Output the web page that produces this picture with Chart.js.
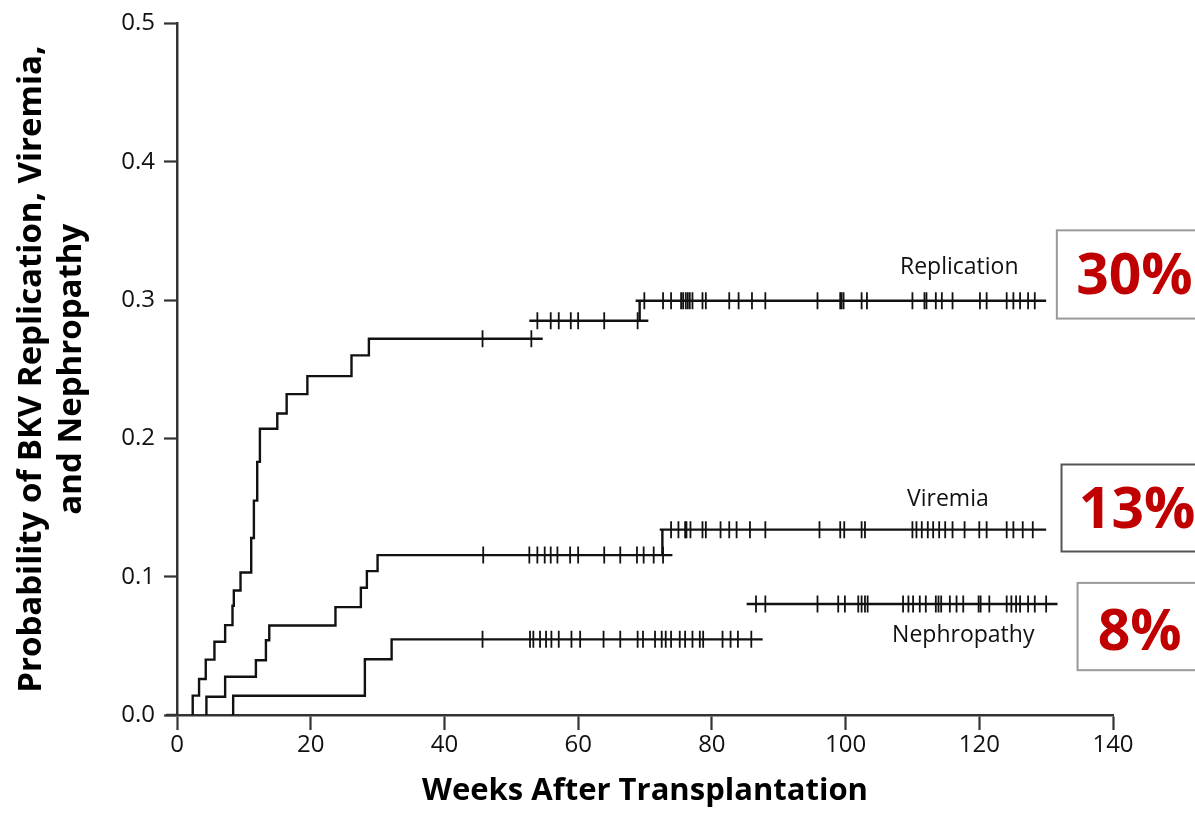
<!DOCTYPE html>
<html>
<head>
<meta charset="utf-8">
<script src="https://cdn.jsdelivr.net/npm/chart.js@4/dist/chart.umd.min.js"></script>
<style>
html,body{margin:0;padding:0;background:#fff;}
#wrap{width:1195px;height:813px;position:relative;}
</style>
</head>
<body>
<div id="wrap"><canvas id="c" width="1195" height="813"></canvas></div>
<script>
// ---------- data ----------
const xTickValues = [0, 20, 40, 60, 80, 100, 120, 140];
const yTickValues = [0.0, 0.1, 0.2, 0.3, 0.4, 0.5];

// Kaplan-Meier step curves; null separates the drawn pieces
const replicationWeeks = [2.35, 2.35, 3.3, 4.3, 5.6, 7.2, 8.3, 8.5, 9.5, 11.1, 11.5, 12.0, 12.4, 15.0, 16.4, 19.5, 26.1, 28.7, 54.7, null, 52.7, 70.5, null, 69.2, 69.2, null, 68.6, 130.0];
const replicationProbs = [0, 0.014, 0.026, 0.040, 0.053, 0.065, 0.079, 0.090, 0.103, 0.128, 0.155, 0.183, 0.207, 0.218, 0.232, 0.245, 0.260, 0.272, 0.272, null, 0.285, 0.285, null, 0.285, 0.2995, null, 0.2995, 0.2995];

const viremiaWeeks = [4.4, 4.4, 7.2, 11.8, 13.3, 13.8, 23.7, 27.5, 28.4, 30.0, 74.1, null, 72.6, 72.6, null, 72.2, 130.0];
const viremiaProbs = [0, 0.0132, 0.0276, 0.0396, 0.054, 0.0647, 0.078, 0.092, 0.104, 0.1156, 0.1156, null, 0.1156, 0.134, null, 0.134, 0.134];

const nephropathyWeeks = [8.4, 8.4, 28.1, 32.1, 87.6, null, 85.2, 131.7];
const nephropathyProbs = [0, 0.0139, 0.0403, 0.0547, 0.0547, null, 0.0803, 0.0803];

// censored observations (tick marks), grouped by plateau level
const replicationCensorLevels = [0.272, 0.285, 0.2995];
const replicationCensorWeeks = [
  [45.7, 53.0],
  [53.9, 55.9, 57.1, 58.9, 60.0, 63.9, 68.9],
  [69.9, 72.7, 73.9, 75.4, 75.7, 76.1, 76.4, 76.7, 77.1, 78.6, 79.1, 82.6, 84.0, 86.0, 88.0, 95.8, 99.2, 99.4, 99.7, 102.4, 103.2, 110.0, 111.8, 112.1, 113.5, 114.4, 116.0, 120.1, 121.1, 124.1, 125.1, 126.1, 127.3, 128.3]
];
const viremiaCensorLevels = [0.1156, 0.134];
const viremiaCensorWeeks = [
  [45.8, 52.7, 53.9, 55.0, 55.9, 56.9, 58.8, 60.0, 63.9, 66.3, 68.8, 69.8, 71.3, 72.7],
  [73.9, 75.0, 76.0, 76.2, 76.8, 78.6, 79.1, 81.3, 82.6, 83.7, 85.7, 88.0, 96.1, 99.2, 99.8, 102.4, 102.9, 110.0, 110.6, 111.4, 112.3, 113.1, 114.0, 114.9, 116.0, 117.8, 120.0, 121.1, 124.1, 125.1, 126.5, 128.0]
];
const nephropathyCensorLevels = [0.0547, 0.0803];
const nephropathyCensorWeeks = [
  [45.7, 52.8, 53.3, 54.3, 55.2, 56.0, 57.1, 59.0, 60.3, 63.8, 66.3, 68.9, 69.7, 71.5, 72.5, 73.1, 73.9, 75.2, 76.0, 77.1, 78.2, 78.7, 81.6, 82.8, 83.9, 85.9],
  [86.6, 88.0, 95.8, 98.9, 99.9, 101.9, 102.4, 102.9, 103.3, 108.6, 109.4, 110.1, 111.1, 112.0, 113.5, 113.9, 114.3, 115.6, 116.6, 117.6, 119.9, 120.2, 121.5, 124.1, 124.8, 125.5, 126.1, 127.3, 128.3, 130.0]
];

const curveNames = ['Replication', 'Viremia', 'Nephropathy'];
const finalPercents = ['30%', '13%', '8%'];

// ---------- build datasets ----------
function curvePoints(weeks, probs) {
  return weeks.map((w, i) => ({ x: w === null ? weeks[i - 1] : w, y: probs[i] }));
}
function censorPoints(groups, levels) {
  const pts = [];
  groups.forEach((g, gi) => g.forEach(w => pts.push({ x: w, y: levels[gi] })));
  return pts;
}
const lineStyle = { type: 'line', borderColor: '#111', borderWidth: 2.4, pointRadius: 0, stepped: true, spanGaps: false, fill: false };
const censorStyle = { type: 'scatter', showLine: false, pointStyle: 'line', pointRotation: 90, pointRadius: 8.5, pointHoverRadius: 8.5, pointBorderWidth: 1.8, pointBorderColor: '#111', borderColor: '#111', backgroundColor: '#111' };

const datasets = [
  Object.assign({ label: curveNames[0], data: curvePoints(replicationWeeks, replicationProbs) }, lineStyle),
  Object.assign({ label: curveNames[1], data: curvePoints(viremiaWeeks, viremiaProbs) }, lineStyle),
  Object.assign({ label: curveNames[2], data: curvePoints(nephropathyWeeks, nephropathyProbs) }, lineStyle),
  Object.assign({ label: curveNames[0] + ' censored', data: censorPoints(replicationCensorWeeks, replicationCensorLevels) }, censorStyle),
  Object.assign({ label: curveNames[1] + ' censored', data: censorPoints(viremiaCensorWeeks, viremiaCensorLevels) }, censorStyle),
  Object.assign({ label: curveNames[2] + ' censored', data: censorPoints(nephropathyCensorWeeks, nephropathyCensorLevels) }, censorStyle)
];

// ---------- annotation plugin (curve names and boxed percentages) ----------
const annotations = {
  labels: [
    { text: curveNames[0], x: 117.0, y: 0.3189 },
    { text: curveNames[1], x: 115.3, y: 0.151 },
    { text: curveNames[2], x: 117.6, y: 0.0527 }
  ],
  boxes: [
    { text: finalPercents[0], x0: 131.6, y0: 0.3504, y1: 0.2866, tx: 143.2, ty: 0.3045, stroke: '#9a9a9a' },
    { text: finalPercents[1], x0: 132.3, y0: 0.1811, y1: 0.1182, tx: 143.6, ty: 0.1353, stroke: '#555' },
    { text: finalPercents[2], x0: 134.7, y0: 0.0955, y1: 0.0324, tx: 144.0, ty: 0.0468, stroke: '#9a9a9a' }
  ]
};

const annotPlugin = {
  id: 'kmAnnotations',
  afterDraw(chart) {
    const { ctx, scales: { x, y } } = chart;
    ctx.save();
    // short extension of the x axis line to the left of the y axis
    ctx.strokeStyle = '#333';
    ctx.lineWidth = 2.5;
    ctx.beginPath();
    ctx.moveTo(x.left - 11, y.bottom);
    ctx.lineTo(x.left, y.bottom);
    ctx.stroke();

    ctx.fillStyle = '#111';
    ctx.font = "23px 'Open Sans', sans-serif";
    ctx.textAlign = 'center';
    ctx.textBaseline = 'alphabetic';
    annotations.labels.forEach(l => ctx.fillText(l.text, x.getPixelForValue(l.x), y.getPixelForValue(l.y)));
    annotations.boxes.forEach(b => {
      const left = x.getPixelForValue(b.x0);
      const top = y.getPixelForValue(b.y0);
      const bottom = y.getPixelForValue(b.y1);
      ctx.fillStyle = '#fff';
      ctx.fillRect(left, top, chart.width + 10 - left, bottom - top);
      ctx.strokeStyle = b.stroke;
      ctx.lineWidth = 2;
      ctx.strokeRect(left, top, chart.width + 10 - left, bottom - top);
      ctx.fillStyle = '#c00000';
      ctx.font = "bold 57px 'Open Sans', sans-serif";
      ctx.textAlign = 'center';
      ctx.fillText(b.text, x.getPixelForValue(b.tx), y.getPixelForValue(b.ty));
    });
    ctx.restore();
  }
};

Chart.defaults.font.family = "'Open Sans', sans-serif";
Chart.defaults.color = '#111';

new Chart(document.getElementById('c'), {
  data: { datasets },
  options: {
    responsive: false,
    animation: false,
    events: [],
    layout: { padding: { top: 20, right: 82, left: 0, bottom: 0 } },
    plugins: { legend: { display: false }, tooltip: { enabled: false } },
    scales: {
      x: {
        type: 'linear',
        min: 0, max: 140,
        afterBuildTicks: s => { s.ticks = xTickValues.map(v => ({ value: v })); },
        afterFit: s => { s.height = 98; },
        ticks: { font: { size: 24 }, padding: 1, color: '#111', maxRotation: 0 },
        grid: { drawOnChartArea: false, drawTicks: true, tickLength: 15, tickColor: '#333', tickWidth: 2.2 },
        border: { display: true, color: '#333', width: 2.5 },
        title: { display: true, text: 'Weeks After Transplantation', font: { size: 31, weight: 'bold', lineHeight: 1.2 }, color: '#000', padding: { top: 0, bottom: 3 } }
      },
      y: {
        type: 'linear',
        min: 0, max: 0.5,
        afterBuildTicks: s => { s.ticks = yTickValues.map(v => ({ value: v })); },
        afterFit: s => { s.width = 177; },
        ticks: { font: { size: 24 }, padding: 9, color: '#111', callback: v => Number(v).toFixed(1) },
        grid: { drawOnChartArea: false, drawTicks: true, tickLength: 13, tickColor: '#333', tickWidth: 2.2 },
        border: { display: true, color: '#333', width: 2.5 },
        title: { display: true, text: ['Probability of BKV Replication, Viremia,', 'and Nephropathy'], font: { size: 33, weight: 'bold', lineHeight: 1.22 }, color: '#000', padding: { top: 11, bottom: 0 } }
      }
    }
  },
  plugins: [annotPlugin]
});
</script>
</body>
</html>
